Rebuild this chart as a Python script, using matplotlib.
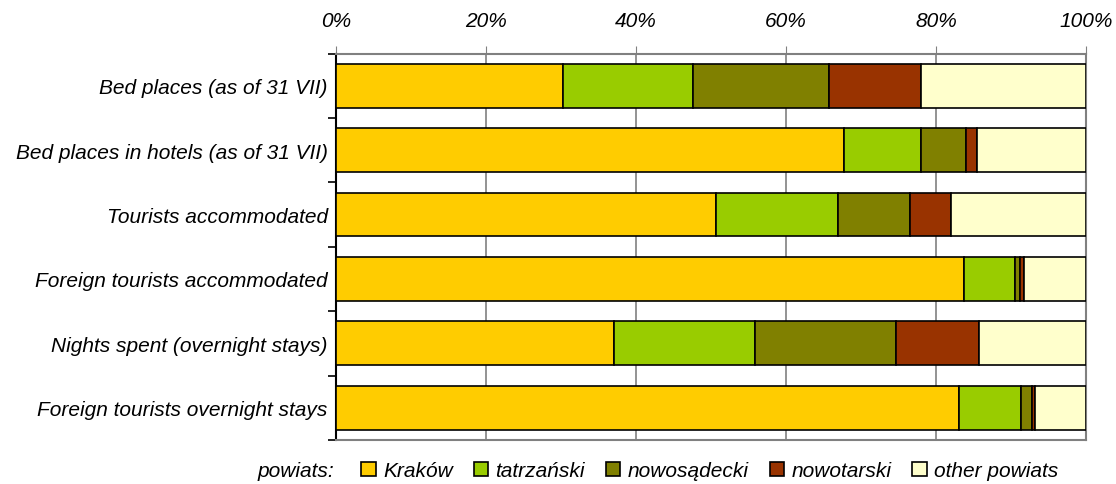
import numpy as np
import matplotlib.pyplot as plt
from matplotlib.patches import Patch

plt.rcParams['font.family'] = ['Liberation Sans', 'DejaVu Sans']

# categories (top to bottom)
categorias = ['Bed places (as of 31 VII)',
              'Bed places in hotels (as of 31 VII)',
              'Tourists accommodated',
              'Foreign tourists accommodated',
              'Nights spent (overnight stays)',
              'Foreign tourists overnight stays']

series = ['Kraków', 'tatrzański', 'nowosądecki', 'nowotarski', 'other powiats']
colores = ['#FFCC00', '#99CC00', '#808000', '#993300', '#FFFFCC']

# shares in percent
krakow = [30.2, 67.7, 50.7, 83.7, 37.1, 83.1]
tatrzanski = [17.4, 10.3, 16.3, 6.9, 18.7, 8.3]
nowosadecki = [18.2, 6.0, 9.5, 0.6, 18.9, 1.4]
nowotarski = [12.2, 1.5, 5.5, 0.5, 11.0, 0.4]
otros = [22.0, 14.5, 18.0, 8.3, 14.3, 6.8]

valores = [krakow, tatrzanski, nowosadecki, nowotarski, otros]

fs = 15

fig = plt.figure(figsize=(11.16, 4.85), dpi=100)
ax = fig.add_axes([0.3011, 0.0907, 0.672, 0.7969])

y = np.arange(len(categorias))
izq = np.zeros(len(categorias))
for vals, nombre, color in zip(valores, series, colores):
    vals = np.array(vals)
    ax.barh(y, vals, left=izq, height=0.68, color=color, edgecolor='black',
            linewidth=1.2, label=nombre, zorder=3)
    izq += vals

ax.set_xlim(0, 100)
ax.set_ylim(len(categorias) - 0.5, -0.5)

# eje x arriba
ax.xaxis.tick_top()
ax.set_xticks(np.arange(0, 101, 20))
ax.set_xticklabels([f'{v}%' for v in range(0, 101, 20)], fontsize=fs, style='italic')
ax.tick_params(axis='x', which='major', direction='out', length=6, color='#808080',
               pad=11)
ax.grid(True, axis='x', color='#808080', linewidth=1.2, zorder=0)

# etiquetas de categorias
ax.set_yticks(y)
ax.set_yticklabels(categorias, fontsize=fs, style='italic')
ax.tick_params(axis='y', which='major', length=0, pad=6)
ax.set_yticks(np.arange(-0.5, len(categorias)), minor=True)
ax.tick_params(axis='y', which='minor', length=6, width=1.2, color='black')

for lado in ['top', 'right', 'bottom']:
    ax.spines[lado].set_color('#808080')
    ax.spines[lado].set_linewidth(1.5)
ax.spines['left'].set_color('black')
ax.spines['left'].set_linewidth(1.5)

# leyenda
handles = [Patch(facecolor=c, edgecolor='black', linewidth=1.2) for c in colores]
fig.legend(handles, series, loc='center', bbox_to_anchor=(0.636, 0.027), ncol=5,
           frameon=False, handlelength=0.7, handleheight=0.7, handletextpad=0.35,
           columnspacing=1.0, prop={'size': fs, 'style': 'italic'})
fig.text(0.299, 0.027, 'powiats:', fontsize=fs, style='italic', ha='right', va='center')

plt.savefig('out.png', dpi=100)
